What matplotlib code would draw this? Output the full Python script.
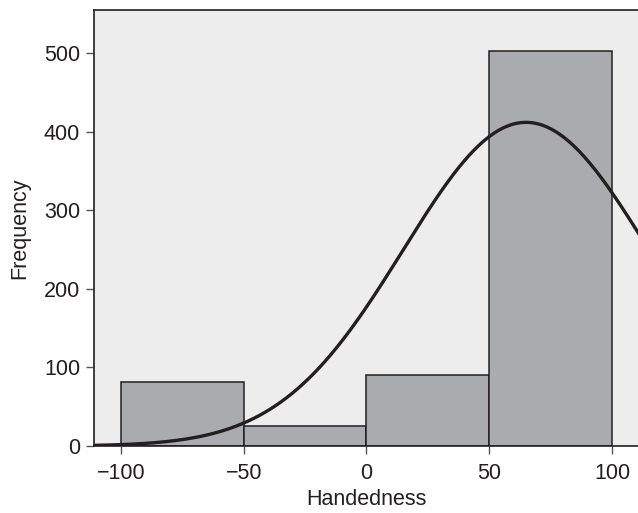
import numpy as np
import matplotlib.pyplot as plt
from matplotlib import font_manager

# histogram of handedness scores
bin_edges = [-100, -50, 0, 50, 100]
counts = [82, 25, 91, 503]

# fitted normal curve (mean, sd, peak height in frequency units)
curve_mean = 65
curve_sd = 50
curve_peak = 412

x_ticks = [-100, -50, 0, 50, 100]
x_tick_labels = ['\u2212100', '\u221250', '0', '50', '100']
y_ticks = [0, 100, 200, 300, 400, 500]

names = {f.name for f in font_manager.fontManager.ttflist}
family = ['Liberation Sans Narrow', 'DejaVu Sans'] if 'Liberation Sans Narrow' in names else ['Liberation Sans', 'DejaVu Sans']
plt.rcParams['font.family'] = family

fig = plt.figure(figsize=(6.38, 5.13), dpi=100)
ax = fig.add_axes([94 / 638, 67 / 513, 1 - 94 / 638, (446 - 10) / 513])
ax.set_facecolor('#ededed')

widths = np.diff(bin_edges)
ax.bar(bin_edges[:-1], counts, width=widths, align='edge',
       color='#aaabae', edgecolor='#231f20', linewidth=1.1, zorder=2)

xs = np.linspace(-111, 111, 400)
ys = curve_peak * np.exp(-0.5 * ((xs - curve_mean) / curve_sd) ** 2)
ax.plot(xs, ys, color='#231f20', linewidth=2.4, zorder=3, solid_capstyle='round')

ax.set_xlim(-111, 110.6)
ax.set_ylim(0, 555)
ax.set_xticks(x_ticks)
ax.set_xticklabels(x_tick_labels)
ax.set_yticks(y_ticks)

ax.tick_params(axis='both', direction='out', length=6, width=1, color='#555555',
               labelsize=15.5, labelcolor='#231f20')
ax.tick_params(axis='x', pad=6)
ax.tick_params(axis='y', pad=4)
for side in ['left', 'top', 'bottom']:
    ax.spines[side].set_color('#231f20')
    ax.spines[side].set_linewidth(1.2)
ax.spines['right'].set_visible(False)

ax.set_xlabel('Handedness', fontsize=15.5, color='#231f20', labelpad=4)
ax.set_ylabel('Frequency', fontsize=15.5, color='#231f20', labelpad=10)

fig.savefig('out.png', dpi=100)
